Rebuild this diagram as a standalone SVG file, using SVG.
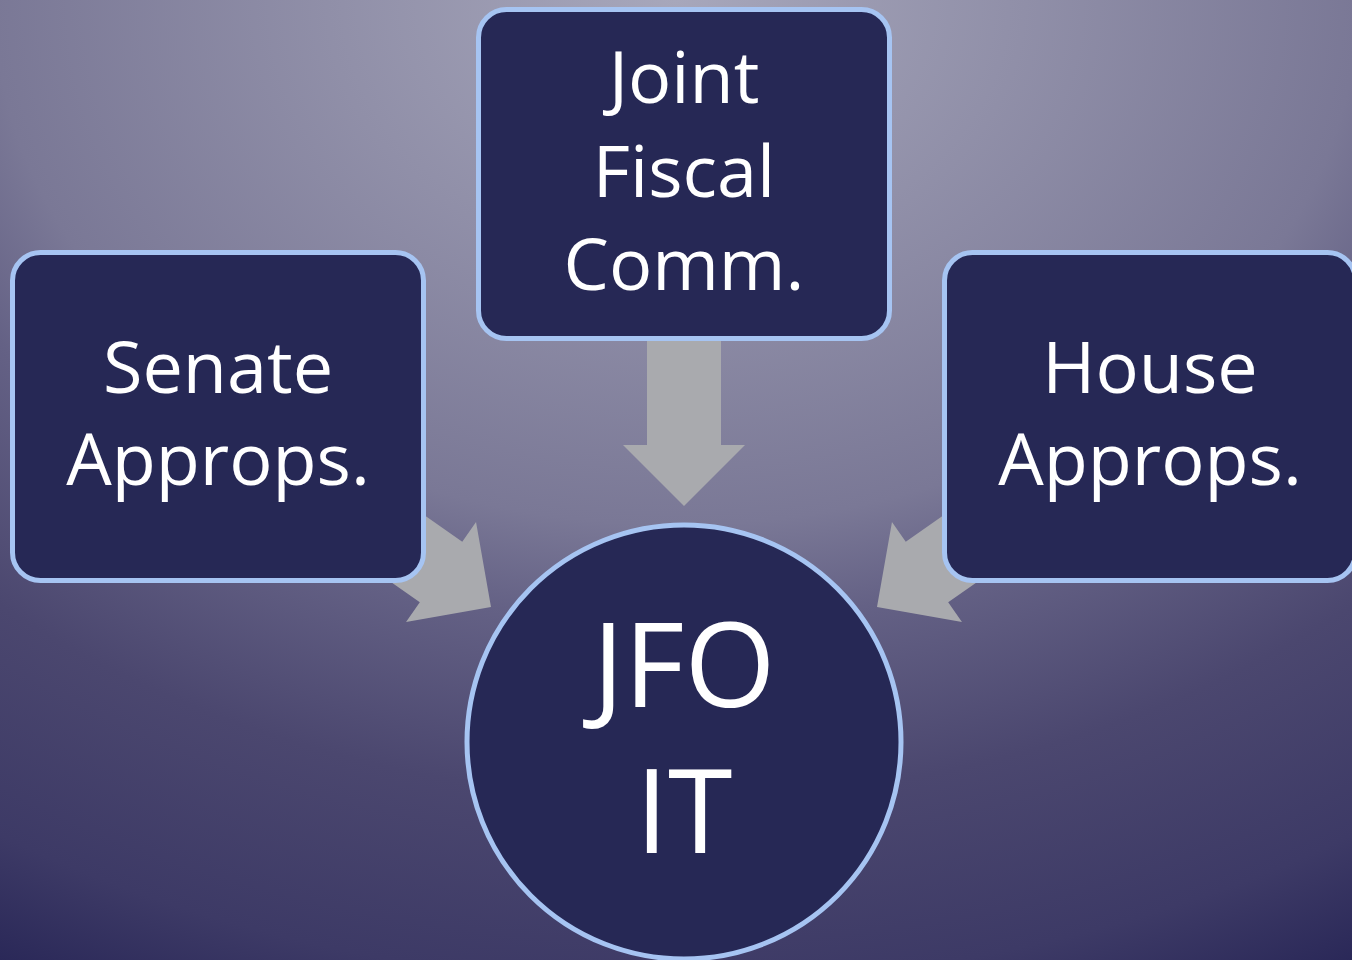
<svg xmlns="http://www.w3.org/2000/svg" width="1352" height="960" viewBox="0 0 1352 960">
  <defs>
    <radialGradient id="bg" gradientUnits="userSpaceOnUse" cx="0" cy="0" r="1420" gradientTransform="translate(676,0) scale(1,0.77)">
      <stop offset="0" stop-color="#a7a7bb"/>
      <stop offset="0.48" stop-color="#7a7896"/>
      <stop offset="0.57" stop-color="#646185"/>
      <stop offset="0.73" stop-color="#4b476f"/>
      <stop offset="0.9" stop-color="#3d3a66"/>
      <stop offset="1" stop-color="#2a2858"/>
    </radialGradient>
    <path id="arrow" d="M0,0 L-61,-61 L-61,-37 L-200,-37 L-200,37 L-61,37 L-61,61 Z"/>
  </defs>
  <style>
    .node { fill: #262855; stroke: #a6c4f2; stroke-width: 5; }
    .arrow { fill: #a9aaae; }
    .label { fill: #ffffff; font-family: "Open Sans", "Noto Sans", sans-serif; text-anchor: middle; }
    .box { font-size: 72px; }
    .big { font-size: 117px; }
  </style>
  <rect x="0" y="0" width="1352" height="960" fill="url(#bg)"/>
  <g id="connectors">
    <use href="#arrow" class="arrow" transform="translate(684,506) rotate(90)"/>
    <use href="#arrow" class="arrow" transform="translate(491,607) rotate(35)"/>
    <use href="#arrow" class="arrow" transform="translate(877,607) rotate(145)"/>
  </g>
  <g id="joint-fiscal">
    <rect class="node" x="478.5" y="9.5" width="411" height="329" rx="28"/>
    <text class="label box" x="684" y="103">Joint</text>
    <text class="label box" x="684" y="197">Fiscal</text>
    <text class="label box" x="684" y="290">Comm.</text>
  </g>
  <g id="senate">
    <rect class="node" x="12.5" y="252.5" width="411" height="328" rx="28"/>
    <text class="label box" x="218" y="393">Senate</text>
    <text class="label box" x="218" y="485">Approps.</text>
  </g>
  <g id="house">
    <rect class="node" x="944.5" y="252.5" width="411" height="328" rx="28"/>
    <text class="label box" x="1150" y="393">House</text>
    <text class="label box" x="1150" y="485">Approps.</text>
  </g>
  <g id="jfo-it">
    <circle class="node" cx="684" cy="742" r="217"/>
    <text class="label big" x="684" y="707">JFO</text>
    <text class="label big" x="684" y="853">IT</text>
  </g>
</svg>
